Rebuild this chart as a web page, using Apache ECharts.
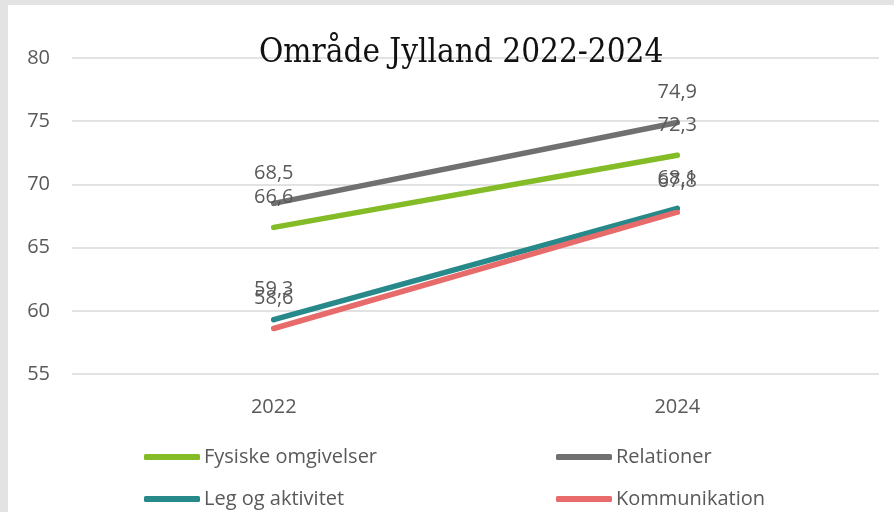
<!DOCTYPE html>
<html>
<head>
<meta charset="utf-8">
<script src="https://cdn.jsdelivr.net/npm/echarts@6/dist/echarts.min.js"></script>
<style>
  html, body { margin: 0; padding: 0; width: 894px; height: 512px; background: #e3e3e3; overflow: hidden; }
  #chart { position: absolute; left: 8px; top: 5px; width: 886px; height: 507px; background: #fff; }
</style>
</head>
<body>
<div id="chart"></div>
<script>
// data
var categories = ['2022', '2024'];
var fysiske = [66.6, 72.3];
var relationer = [68.5, 74.9];
var leg = [59.3, 68.1];
var kommunikation = [58.6, 67.8];

var colors = ['#83bc26', '#707070', '#27898a', '#e76b6a'];

function lineSeries(name, data, color) {
  return {
    name: name,
    type: 'line',
    data: data,
    symbol: 'circle',
    symbolSize: 5,
    itemStyle: { color: color },
    lineStyle: { width: 5.5, color: color, cap: 'round' },
    label: {
      show: true,
      position: 'top',
      distance: 18,
      color: '#595959',
      fontSize: 20,
      fontFamily: 'Open Sans',
      formatter: function (p) { return String(p.value).replace('.', ','); }
    },
    emphasis: { disabled: true }
  };
}

// one legend per item, 2 x 2 layout
function legendItem(name, left, top) {
  return {
    data: [name],
    left: left, top: top,
    itemWidth: 56, itemHeight: 6,
    icon: 'roundRect',
    textStyle: { color: '#595959', fontSize: 20, fontFamily: 'Open Sans', padding: [0, 0, 0, -1] }
  };
}

var chart = echarts.init(document.getElementById('chart'));
chart.setOption({
  animation: false,
  title: {
    text: 'Område Jylland 2022-2024',
    left: 246,
    top: 27,
    textStyle: { fontFamily: 'DejaVu Serif Condensed', fontWeight: 'normal', fontSize: 33, color: '#111' }
  },
  grid: { left: 64, right: 15, top: 53, bottom: 138 },
  legend: [
    legendItem('Fysiske omgivelser', 131, 437),
    legendItem('Relationer', 543, 437),
    legendItem('Leg og aktivitet', 131, 479),
    legendItem('Kommunikation', 543, 479)
  ],
  xAxis: {
    type: 'category',
    data: categories,
    boundaryGap: true,
    axisLine: { show: false },
    axisTick: { show: false },
    axisLabel: { color: '#595959', fontSize: 20, fontFamily: 'Open Sans', margin: 23 }
  },
  yAxis: {
    type: 'value',
    min: 55, max: 80, interval: 5,
    axisLine: { show: false },
    axisTick: { show: false },
    axisLabel: { color: '#595959', fontSize: 20, fontFamily: 'Open Sans', margin: 22 },
    splitLine: { lineStyle: { color: '#d9d9d9', width: 1.5 } }
  },
  series: [
    lineSeries('Fysiske omgivelser', fysiske, colors[0]),
    lineSeries('Relationer', relationer, colors[1]),
    lineSeries('Leg og aktivitet', leg, colors[2]),
    lineSeries('Kommunikation', kommunikation, colors[3])
  ]
});
</script>
</body>
</html>
